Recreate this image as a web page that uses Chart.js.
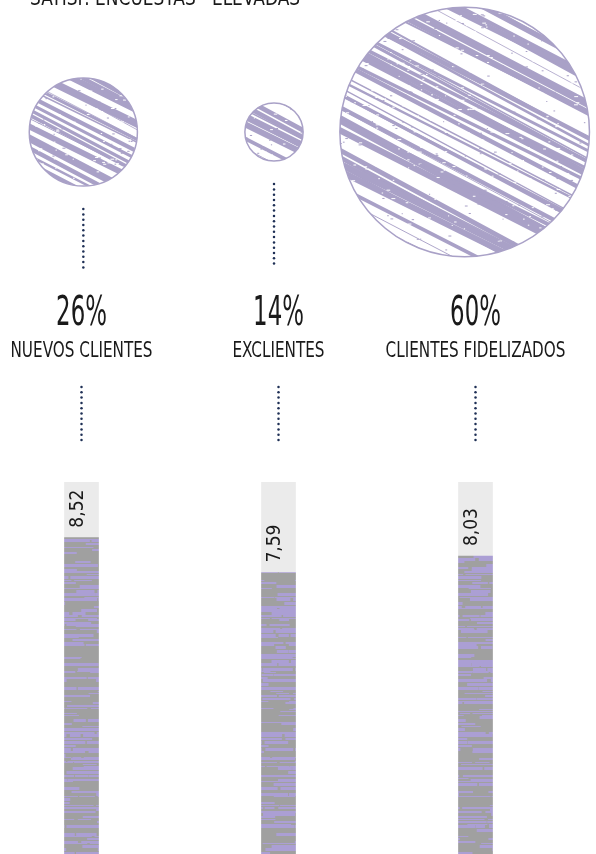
<!DOCTYPE html>
<html><head><meta charset="utf-8">
<script src="https://cdn.jsdelivr.net/npm/chart.js@4"></script>
<style>
html,body{margin:0;padding:0;background:#fff;overflow:hidden;width:596px;height:854px;}
#wrap{position:relative;width:596px;height:854px;overflow:hidden;}
#barCv{position:absolute;left:-17px;top:0;}
#bubCv{position:absolute;left:-12px;top:0;}
</style></head><body>
<div id="wrap"><canvas id="barCv" width="591" height="858"></canvas><canvas id="bubCv" width="608" height="280"></canvas></div>
<script>
// ---- data ----
const titleText = 'SATISF. ENCUESTAS · ELEVADAS';
const categories = ['NUEVOS CLIENTES', 'EXCLIENTES', 'CLIENTES FIDELIZADOS'];
const shares = [26, 14, 60];
const shareLabels = ['26%', '14%', '60%'];
const scores = [8.52, 7.59, 8.03];
const scoreMax = [10, 10, 10];
const scoreLabels = ['8,52', '7,59', '8,03'];

// ---- styling ----
const PURPLE = '#a9a1c7';
const DOT = '#1e2f55';
const FONT = '"Liberation Sans Narrow", "DejaVu Sans Condensed", sans-serif';
const PX_PER_PCT = 2.08;

function lcg(seed){ let s = seed; return () => { s = (s * 16807) % 2147483647; return s / 2147483647; }; }

function circlePattern(ctx){
  const c = document.createElement('canvas'); c.width = 620; c.height = 300;
  const g = c.getContext('2d');
  g.fillStyle = '#fff'; g.fillRect(0, 0, 620, 300);
  const rnd = lcg(11);
  g.strokeStyle = PURPLE; g.lineCap = 'round';
  const slope = 0.52;
  for (let y = -360; y < 320;) {
    const w = 0.8 + rnd() * rnd() * 9;
    g.lineWidth = w;
    const wob = (rnd() - 0.5) * 40;
    g.beginPath(); g.moveTo(-20, y); g.lineTo(640, y + 660 * slope + wob); g.stroke();
    y += (w + 0.8 + rnd() * 3) * 1.13;
  }
  g.fillStyle = '#fff';
  for (let k = 0; k < 900; k++) { const x = rnd() * 620, y = rnd() * 300; g.fillRect(x, y, 1 + rnd() * 3, 1); }
  g.fillStyle = PURPLE;
  for (let k = 0; k < 600; k++) { const x = rnd() * 620, y = rnd() * 300; g.fillRect(x, y, 1 + rnd() * 2, 1); }
  return ctx.createPattern(c, 'repeat');
}

function barPattern(ctx){
  const c = document.createElement('canvas'); c.width = 600; c.height = 860;
  const g = c.getContext('2d');
  g.fillStyle = '#a0a0a0'; g.fillRect(0, 0, 600, 860);
  const rnd = lcg(5);
  g.fillStyle = '#ab9fd4';
  for (let y = 0; y < 860;) {
    const h = 1 + Math.floor(rnd() * 3);
    let x = -5;
    while (x < 600) {
      const len = 8 + rnd() * 40;
      if (rnd() < 0.6) g.fillRect(x, y, len, h);
      x += len + rnd() * 4;
    }
    y += h + Math.floor(rnd() * 2);
  }
  return ctx.createPattern(c, 'repeat');
}

function drawDots(ctx, x, y0, y1){
  ctx.save(); ctx.fillStyle = DOT;
  for (let y = y0; y <= y1 + 0.1; y += 5.3) { ctx.beginPath(); ctx.arc(x, y, 1.25, 0, Math.PI * 2); ctx.fill(); }
  ctx.restore();
}

function squeezedText(ctx, txt, x, y, size, sx){
  ctx.save(); ctx.translate(x, y); ctx.scale(sx, 1);
  ctx.font = size + 'px ' + FONT; ctx.textAlign = 'center'; ctx.textBaseline = 'alphabetic';
  ctx.fillText(txt, 0, 0); ctx.restore();
}

const labelsPlugin = {
  id: 'labels',
  afterDraw(chart){
    const ctx = chart.ctx, xs = chart.scales.x;
    ctx.save();
    ctx.fillStyle = '#1a1a1a';
    ctx.save(); ctx.translate(17 + 30, 5); ctx.scale(0.9, 1);
    ctx.font = '21px ' + FONT; ctx.textAlign = 'left'; ctx.textBaseline = 'alphabetic';
    ctx.fillText(titleText, 0, 0); ctx.restore();
    const meta = chart.getDatasetMeta(0);
    categories.forEach((cat, i) => {
      const x = xs.getPixelForValue(i);
      squeezedText(ctx, shareLabels[i], x, 325, 41, 0.62);
      squeezedText(ctx, cat, x, 357, 22, 0.77);
      drawDots(ctx, x, 387, 442);
      const top = meta.data[i].y;
      ctx.save(); ctx.translate(x - 3, top - 10); ctx.rotate(-Math.PI / 2);
      ctx.font = '19px ' + FONT; ctx.textAlign = 'left'; ctx.textBaseline = 'middle';
      ctx.fillStyle = '#1a1a1a';
      ctx.fillText(scoreLabels[i], 0, 0); ctx.restore();
    });
    ctx.restore();
  }
};

const barCtx = document.getElementById('barCv').getContext('2d');
new Chart(barCtx, {
  type: 'bar',
  data: { labels: categories, datasets: [
    { data: scores, backgroundColor: barPattern(barCtx), barThickness: 34, borderWidth: 0, grouped: false },
    { data: scoreMax, backgroundColor: '#ebebeb', barThickness: 34, borderWidth: 0, grouped: false }
  ]},
  options: {
    responsive: false, animation: false, events: [],
    layout: { autoPadding: false, padding: { top: 482, bottom: 0, left: 0, right: 0 } },
    plugins: { legend: { display: false }, tooltip: { enabled: false } },
    scales: {
      x: { display: false, offset: true },
      y: { display: false, min: 0, max: 10 }
    }
  },
  plugins: [labelsPlugin]
});

const dotsPlugin = {
  id: 'upperDots',
  afterDatasetsDraw(chart){
    const meta = chart.getDatasetMeta(0);
    meta.data.forEach(el => {
      const r = el.options.radius;
      const y0 = el.y + r + 23, y1 = 268;
      if (y0 < y1) drawDots(chart.ctx, el.x, y0, y1);
    });
  }
};

const bubCtx = document.getElementById('bubCv').getContext('2d');
new Chart(bubCtx, {
  type: 'bubble',
  data: { labels: categories, datasets: [{
    data: shares.map((v, i) => ({ x: categories[i], y: 0, r: v * PX_PER_PCT })),
    backgroundColor: circlePattern(bubCtx), borderColor: PURPLE, borderWidth: 1.5, clip: false
  }]},
  options: {
    responsive: false, animation: false, events: [],
    layout: { autoPadding: false, padding: { top: 0, bottom: 16, left: 0, right: 36 } },
    plugins: { legend: { display: false }, tooltip: { enabled: false } },
    scales: {
      x: { type: 'category', display: false, offset: true },
      y: { display: false, min: -1, max: 1 }
    }
  },
  plugins: [dotsPlugin]
});
</script>
</body></html>
